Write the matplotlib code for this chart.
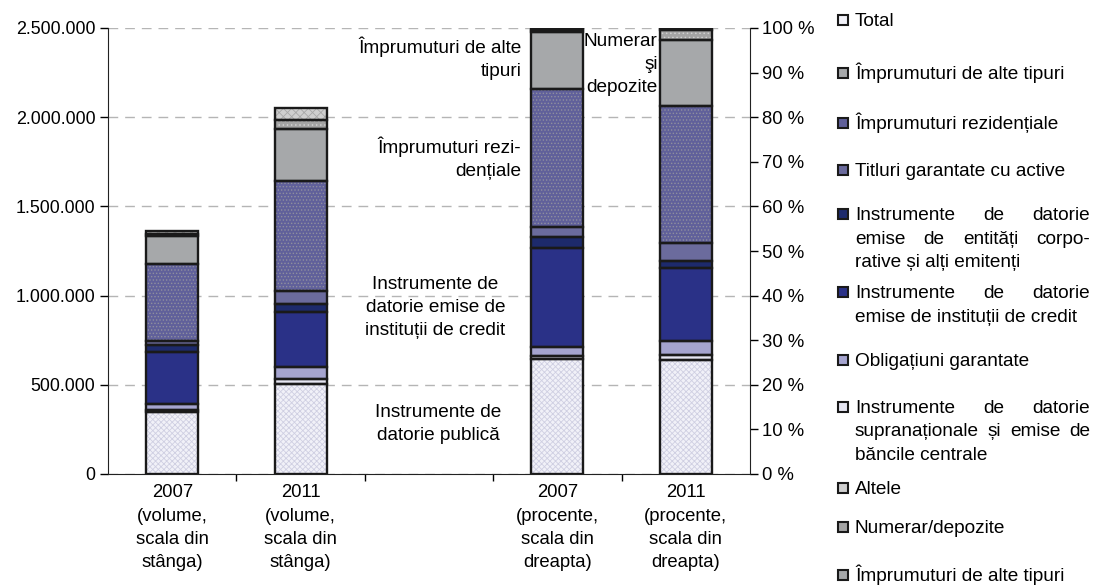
import matplotlib.pyplot as plt
from matplotlib.patches import Rectangle

plt.rcParams["font.family"] = ["Liberation Sans", "DejaVu Sans"]
plt.rcParams["hatch.linewidth"] = 0.6

# --- data ---------------------------------------------------------------
x_labels = [
    "2007\n(volume,\nscala din\nstânga)",
    "2011\n(volume,\nscala din\nstânga)",
    "",
    "2007\n(procente,\nscala din\ndreapta)",
    "2011\n(procente,\nscala din\ndreapta)",
]

# stacking order, bottom to top
segments = [
    "Instrumente de datorie publică",
    "Instrumente de datorie supranaționale și emise de băncile centrale",
    "Obligațiuni garantate",
    "Instrumente de datorie emise de instituții de credit",
    "Instrumente de datorie emise de entități corporative și alți emitenți",
    "Titluri garantate cu active",
    "Împrumuturi rezidențiale",
    "Împrumuturi de alte tipuri",
    "Numerar/depozite",
    "Altele",
]
volume_2007 = [348000, 11000, 34000, 290000, 39000, 24000, 430000, 157000, 15000, 13000]
volume_2011 = [505000, 28000, 65000, 308000, 47000, 75000, 617000, 290000, 52000, 66000]
percent_2007 = [25.7, 0.8, 1.9, 22.2, 2.5, 2.2, 31.0, 12.7, 0.5, 0.5]
percent_2011 = [25.6, 1.1, 3.2, 16.2, 1.6, 4.1, 30.6, 15.0, 2.2, 0.4]

left_ticks = [0, 500000, 1000000, 1500000, 2000000, 2500000]
right_ticks = [0, 10, 20, 30, 40, 50, 60, 70, 80, 90, 100]

legend_labels = [
    ["Total"],
    ["Împrumuturi de alte tipuri"],
    ["Împrumuturi rezidențiale"],
    ["Titluri garantate cu active"],
    ["Instrumente de datorie", "emise de entități corpo-", "rative și alți emitenți"],
    ["Instrumente de datorie", "emise de instituții de credit"],
    ["Obligațiuni garantate"],
    ["Instrumente de datorie", "supranaționale și emise de", "băncile centrale"],
    ["Altele"],
    ["Numerar/depozite"],
    ["Împrumuturi de alte tipuri"],
]
# which segment style each legend square uses
legend_style = [0, 7, 6, 5, 4, 3, 2, 1, 9, 8, 7]

# --- styles -------------------------------------------------------------
faces = ["#f1f1f8", "#e6e6f2", "#a5a4cf", "#2a3187", "#1d2a6c",
         "#6b6b9d", "#60609a", "#a6a8aa", "#a4a4a4", "#cfcfcf"]
hatches = ["xxxxxx", "", "", "", "", "", ".....", "", "....", "xxxx"]
hatch_colors = ["#cfcfe2", "#e6e6f2", "#a5a4cf", "#2a3187", "#1d2a6c",
                "#6b6b9d", "#8f8f9f", "#a6a8aa", "#d0d0d0", "#a8a8a8"]
edge = "#1a1a1a"
width = 0.405
fs = 13.3
fs_text = 13.7
fs_left = 12.9
lsp = 1.47

fig = plt.figure(figsize=(10.96, 5.88), dpi=100)
ax = fig.add_axes([108 / 1096, 1 - 474 / 588, (750 - 108) / 1096, (474 - 28) / 588])
ax2 = ax.twinx()


def stack(axis, xpos, values):
    bottom = 0
    for i, v in enumerate(values):
        axis.bar(xpos, v, width, bottom=bottom, color=faces[i], hatch=hatches[i],
                 edgecolor=hatch_colors[i], linewidth=0, zorder=2)
        axis.bar(xpos, v, width, bottom=bottom, fill=False, edgecolor=edge,
                 linewidth=1.7, zorder=3)
        bottom += v


stack(ax, 0, volume_2007)
stack(ax, 1, volume_2011)
stack(ax2, 3, percent_2007)
stack(ax2, 4, percent_2011)

ax.set_xlim(-0.5, 4.5)
ax.set_ylim(0, 2500000)
ax2.set_ylim(0, 100)

ax.set_yticks(left_ticks)
ax.set_yticklabels([f"{v:,}".replace(",", ".") for v in left_ticks])
ax2.set_yticks(right_ticks)
ax2.set_yticklabels([f"{v} %" for v in right_ticks])

ax.set_xticks([0.5, 1.5, 2.5, 3.5])
ax.set_xticklabels([])
ax.set_xticks(range(len(x_labels)), minor=True)
ax.set_xticklabels(x_labels, minor=True, fontsize=fs, linespacing=lsp)
ax.tick_params(axis="x", which="major", direction="out", length=5, width=1)
ax.tick_params(axis="x", which="minor", length=0, pad=7.5)
ax.tick_params(axis="y", direction="out", length=6, width=1, labelsize=fs_left, pad=3)
ax2.tick_params(axis="y", direction="out", length=6, width=1, labelsize=fs, pad=3)

ax.yaxis.grid(True, linestyle=(0, (7, 5)), color="#b5b5b5", linewidth=1)
ax.set_axisbelow(True)

ax.spines["top"].set_visible(False)
ax.spines["right"].set_visible(False)
for s in ["top", "left", "bottom"]:
    ax2.spines[s].set_visible(False)
for a in (ax, ax2):
    for s in a.spines.values():
        s.set_color("#222222")

# annotations inside the plot
ax2.text(2.72, 93.2, "Împrumuturi de alte\ntipuri", ha="right", va="center",
         fontsize=fs_text, linespacing=lsp)
ax2.text(3.78, 91.8, "Numerar\nşi\ndepozite", ha="right", va="center",
         fontsize=fs_text, linespacing=lsp)
ax2.text(2.72, 70.7, "Împrumuturi rezi-\ndențiale", ha="right", va="center",
         fontsize=fs_text, linespacing=lsp)
ax2.text(2.05, 37.4, "Instrumente de\ndatorie emise de\ninstituții de credit",
         ha="center", va="center", fontsize=fs_text, linespacing=lsp)
ax2.text(2.07, 11.3, "Instrumente de\ndatorie publică", ha="center",
         va="center", fontsize=fs_text, linespacing=lsp)

# legend drawn by hand (justified text, irregular spacing)
W, H = 1096, 588
renderer = fig.canvas.get_renderer()
legend_y = [20, 73, 123, 170, 214, 292, 360, 407, 488, 527, 575]
line_gap = 23.5
tx0, tx1 = 855, 1090


def put_line(text, y_px, justify):
    words = text.split(" ")
    if not justify or len(words) < 2:
        fig.text(tx0 / W, 1 - (y_px + 6) / H, text, fontsize=fs_text, va="baseline")
        return
    items = [fig.text(0, 1 - (y_px + 6) / H, w, fontsize=fs_text, va="baseline")
             for w in words]
    widths = [t.get_window_extent(renderer).width for t in items]
    gap = (tx1 - tx0 - sum(widths)) / (len(words) - 1)
    x = tx0
    for t, w in zip(items, widths):
        t.set_x(x / W)
        x += w + gap


for lines, st, y in zip(legend_labels, legend_style, legend_y):
    fig.patches.append(Rectangle((838 / W, 1 - (y + 5) / H), 10 / W, 10 / H,
                                 transform=fig.transFigure, facecolor=faces[st],
                                 edgecolor=edge, linewidth=1.5))
    for k, line in enumerate(lines):
        put_line(line, y + k * line_gap, justify=(k < len(lines) - 1))

fig.savefig("out.png", dpi=100)
